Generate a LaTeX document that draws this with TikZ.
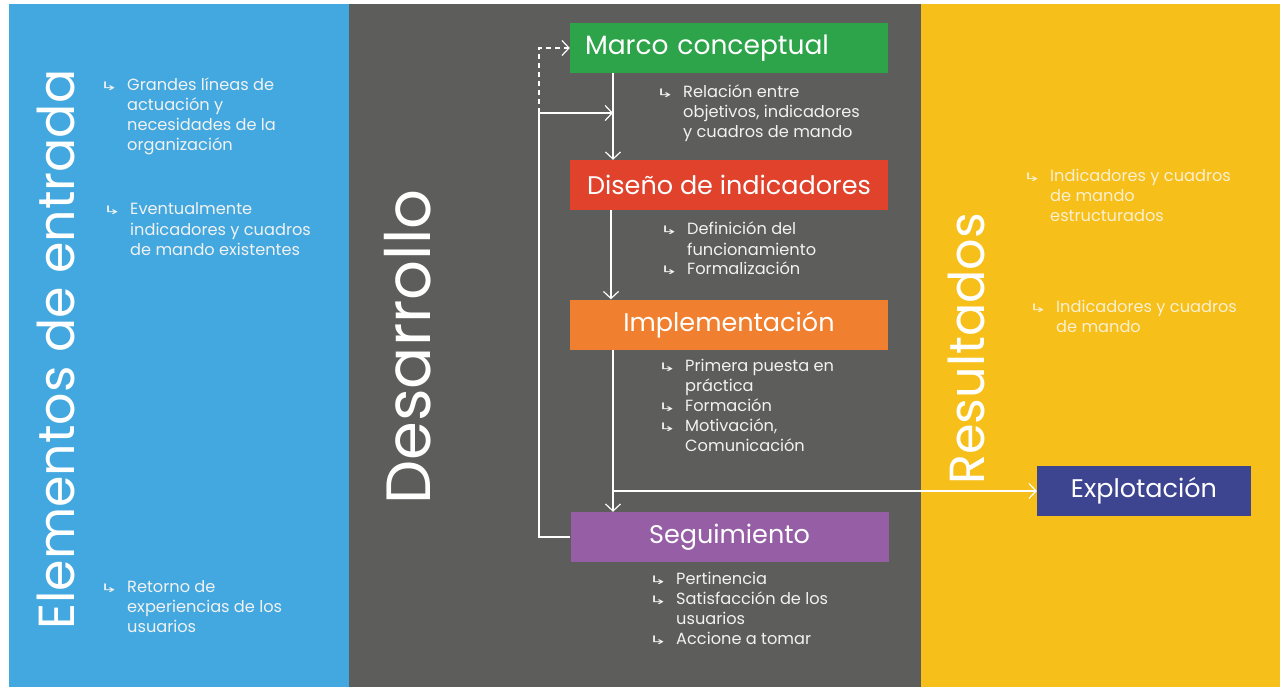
\documentclass[tikz,border=0pt]{standalone}
\usepackage{fontspec}
\usepackage{graphicx}
\setmainfont{Poppins}
\newfontfamily\symfont{DejaVu Sans}
\usetikzlibrary{arrows.meta}
\definecolor{cblue}{HTML}{42A8DF}
\definecolor{cgray}{HTML}{5D5D5B}
\definecolor{cyellow}{HTML}{F6BF19}
\definecolor{cgreen}{HTML}{2EA44A}
\definecolor{cred}{HTML}{E0422C}
\definecolor{corange}{HTML}{F07F2F}
\definecolor{cpurple}{HTML}{965FA5}
\definecolor{cnavy}{HTML}{3D4591}
\definecolor{ctext}{HTML}{F2F2F2}
\definecolor{cytext}{HTML}{FBF0D2}
\newcommand\bul{\llap{\scalebox{1.7}[0.9]{\symfont\fontsize{13}{13}\selectfont ↳}\hspace{9pt}}}
\tikzset{
  box/.style={minimum width=318pt, minimum height=50pt, inner sep=0pt, text=white,
    font=\fontsize{25.5}{25.5}\selectfont},
  item/.style={anchor=base west, inner sep=0pt, align=left, text=ctext,
    font=\fontsize{16.2}{20}\selectfont},
  yitem/.style={item, text=cytext},
  title/.style={rotate=90, anchor=base west, inner sep=0pt, text=white},
  arr/.style={draw=white, line width=1.2pt, -{Straight Barb[length=7pt,width=15pt]}},
}
\begin{document}
\begin{tikzpicture}[x=1pt,y=-1pt]
\useasboundingbox (0,0) rectangle (1280,687);
\fill[white] (0,0) rectangle (1280,687);
\fill[cblue] (9,4) rectangle (349,687);
\fill[cgray] (349,4) rectangle (921,687);
\fill[cyellow] (921,4) rectangle (1280,687);

% panel titles
\node[title, font=\fontsize{50.7}{50.7}\selectfont] (tin) at (74,630) {Elementos de entrada};
\node[title, font=\fontsize{62.5}{62.5}\selectfont] (tdes) at (430,505) {Desarrollo};
\node[title, font=\fontsize{49.3}{49.3}\selectfont] (tres) at (984,485) {Resultados};

% boxes
\node[box, fill=cgreen, align=left, text width=288pt, font=\fontsize{26.5}{26.5}\selectfont] (marco) at (729,48) {Marco conceptual};
\node[box, fill=cred] (diseno) at (729,185) {Diseño de indicadores};
\node[box, fill=corange] (impl) at (729,324.5) {Implementación};
\node[box, fill=cpurple] (seg) at (729.5,537) {Seguimiento};
\node[box, fill=cnavy, minimum width=214pt] (explo) at (1144,491) {Explotación};

% left panel items (anchor = baseline of last line)
\node[item] (l1) at (127,151) {\bul Grandes líneas de\\actuación y\\necesidades de la\\organización};
\node[item] (l2) at (130,255) {\bul Eventualmente\\indicadores y cuadros\\de mando existentes};
\node[item] (l3) at (127,632) {\bul Retorno de\\experiencias de los\\usuarios};

% middle items
\node[item] (g1) at (683,138) {\bul Relación entre\\objetivos, indicadores\\y cuadros de mando};
\node[item] (g2) at (687,275) {\bul Definición del\\funcionamiento\\\bul Formalización};
\node[item] (g3) at (685,451) {\bul Primera puesta en\\práctica\\\bul Formación\\\bul Motivación,\\Comunicación};
\node[item] (g4) at (676,644) {\bul Pertinencia\\\bul Satisfacción de los\\usuarios\\\bul Accione a tomar};

% right items
\node[yitem] (y1) at (1050,222) {\bul Indicadores y cuadros\\de mando\\estructurados};
\node[yitem] (y2) at (1056,332) {\bul Indicadores y cuadros\\de mando};

% connectors
\coordinate (fb) at (613,113);
\coordinate (lp) at (539,113);
\coordinate (ex) at (613,491);
\draw[arr] (613,0 |- marco.south) -- (613,0 |- diseno.north);
\draw[arr] (611,0 |- diseno.south) -- (611,0 |- impl.north);
\draw[arr] (613,0 |- impl.south) -- (613,0 |- seg.north);
\draw[arr] (seg.west) -| (lp) -- (fb);
\draw[arr, dashed, dash pattern=on 5pt off 4pt] (lp) |- (marco.west);
\draw[arr] (ex) -- (explo.west);
\end{tikzpicture}
\end{document}
